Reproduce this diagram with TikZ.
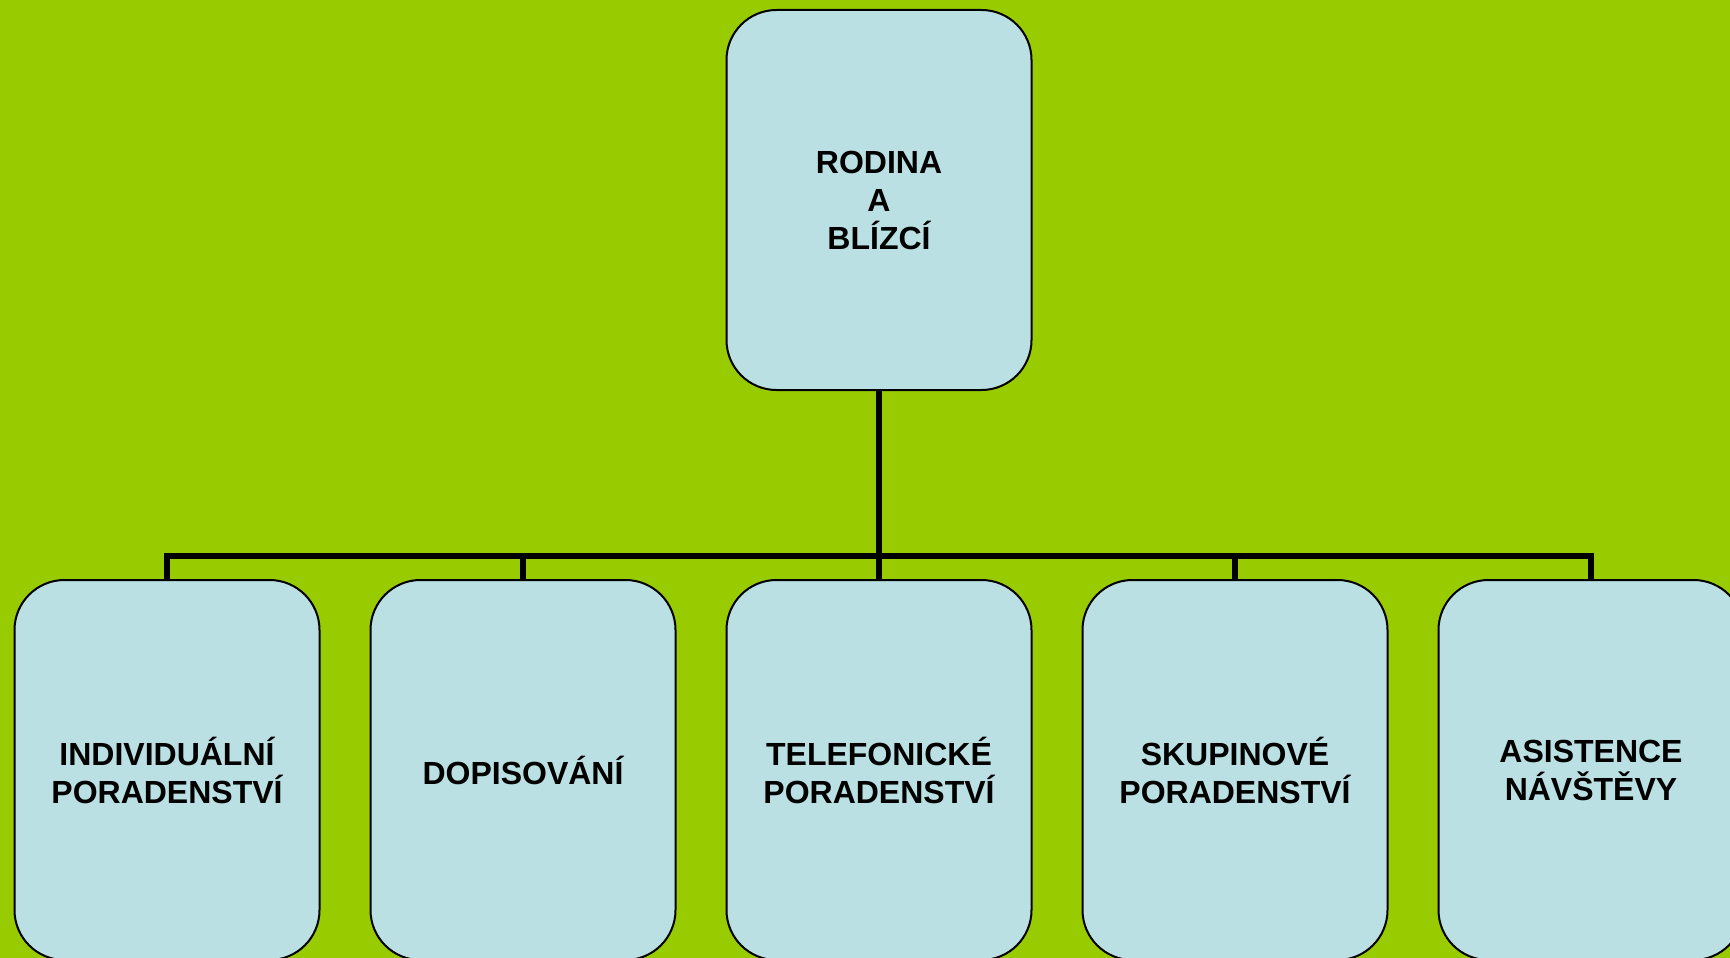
\documentclass[tikz,border=0pt]{standalone}
\usepackage{fontspec}
\setmainfont{Liberation Sans}
\definecolor{bg}{HTML}{99CC00}
\definecolor{boxfill}{HTML}{BAE0E3}
\pgfdeclarelayer{background}
\pgfsetlayers{background,main}
\begin{document}
\begin{tikzpicture}[x=1pt,y=-1pt,
  card/.style={draw=black, line width=2pt, fill=boxfill, rounded corners=50pt,
    minimum width=305pt, minimum height=380pt, align=center, inner sep=0pt,
    font=\fontsize{32}{38}\selectfont\bfseries},
  conn/.style={line width=6pt, draw=black}]
\useasboundingbox (0,0) rectangle (1730,958);
\clip (0,0) rectangle (1730,958);
\node[card] (top) at (879,200) {RODINA\\A\\BLÍZCÍ};
\node[card] (b1) at (167,770) {INDIVIDUÁLNÍ\\PORADENSTVÍ};
\node[card] (b2) at (523,770) {DOPISOVÁNÍ};
\node[card] (b3) at (879,770) {TELEFONICKÉ\\PORADENSTVÍ};
\node[card] (b4) at (1235,770) {SKUPINOVÉ\\PORADENSTVÍ};
\node[card] (b5) at (1591,770) {ASISTENCE\\NÁVŠTĚVY};
\coordinate (bus) at (879,556);
\begin{pgfonlayer}{background}
\fill[bg] (0,0) rectangle (1730,958);
\draw[conn] (top.south) -- (bus);
\draw[conn] (b1.north) |- (b5.north |- bus) -- (b5.north);
\draw[conn] (b2.north) -- (b2.north |- bus);
\draw[conn] (b3.north) -- (b3.north |- bus);
\draw[conn] (b4.north) -- (b4.north |- bus);
\end{pgfonlayer}
\end{tikzpicture}
\end{document}
